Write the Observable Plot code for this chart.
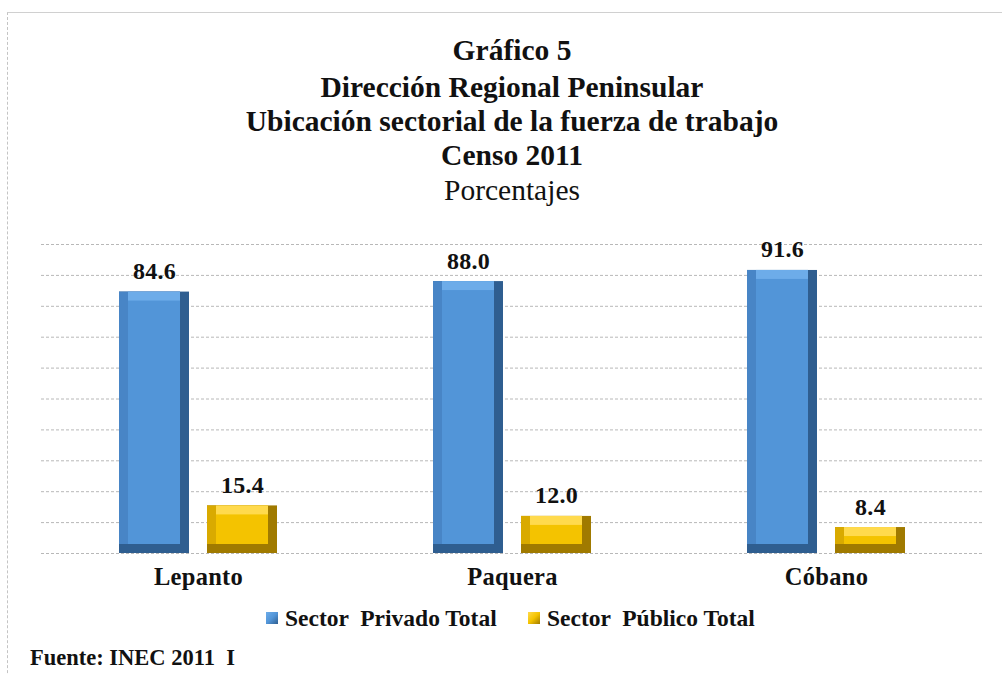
<!DOCTYPE html>
<html>
<head>
<meta charset="utf-8">
<script src="https://cdn.jsdelivr.net/npm/d3@7"></script>
<script src="https://cdn.jsdelivr.net/npm/@observablehq/plot@0.6"></script>
<style>
  html, body { margin: 0; padding: 0; background: #fff; width: 1002px; height: 675px; overflow: hidden; }
  body { position: relative; font-family: "Liberation Serif", "Times New Roman", serif; color: #111; }
  .frame { position: absolute; left: 7px; top: 12px; width: 1010px; height: 700px;
           border-top: 1px solid #d0d0d0; border-left: 1px dashed #c4c4c4; }
  .tline { position: absolute; left: 12px; width: 1000px; text-align: center; line-height: 1; white-space: nowrap; }
  .legend { position: absolute; top: 604px; left: 0; width: 1002px; height: 28px; font-weight: bold; font-size: 23.5px; }
  .lg { position: absolute; top: 0; white-space: nowrap; line-height: 28px; }
  .sw { display: inline-block; width: 12px; height: 12px; margin-right: 7px; vertical-align: 2px; }
  .foot { position: absolute; left: 30px; top: 645px; font-weight: bold; font-size: 22.5px; line-height: 26px; }
  #chart { position: absolute; left: 0; top: 220px; }
</style>
</head>
<body>
<div class="frame"></div>
<div id="titles"></div>
<div id="chart"></div>
<div class="legend" id="legend"></div>
<div class="foot">Fuente: INEC 2011&nbsp; I</div>
<script>
const categories = ["Lepanto", "Paquera", "Cóbano"];
const seriesNames = ["Sector  Privado Total", "Sector  Público Total"];
const privado = [84.6, 88.0, 91.6];
const publico = [15.4, 12.0, 8.4];
const yTicks = [0, 10, 20, 30, 40, 50, 60, 70, 80, 90, 100];
const titleLines = ["Gráfico 5", "Dirección Regional Peninsular", "Ubicación sectorial de la fuerza de trabajo", "Censo 2011", "Porcentajes"];

// palette per series: [right/bottom, left, top, face]
const palette = {
  "Sector  Privado Total": ["#2f5e90", "#4885c6", "#6dace9", "#5295d8"],
  "Sector  Público Total": ["#a07a00", "#d9aa00", "#ffda4d", "#f4c300"]
};

// titles
const tdiv = document.getElementById("titles");
const tY = [51, 88, 122, 156, 191];
titleLines.forEach((t, i) => {
  const d = document.createElement("div");
  d.className = "tline";
  const last = i === titleLines.length - 1;
  const fs = last ? 29.5 : 29.5;
  d.style.fontSize = fs + "px";
  d.style.fontWeight = last ? "normal" : "bold";
  d.style.top = (tY[i] - fs / 2) + "px";
  d.textContent = t;
  tdiv.appendChild(d);
});

const rows = [];
categories.forEach((c, i) => {
  rows.push({cat: c, series: seriesNames[0], value: privado[i]});
  rows.push({cat: c, series: seriesNames[1], value: publico[i]});
});

const col = k => d => palette[d.series][k];

const chart = Plot.plot({
  width: 1002,
  height: 380,
  marginLeft: 40,
  marginRight: 19,
  marginTop: 24,
  marginBottom: 47,
  style: {fontFamily: "'Liberation Serif', 'Times New Roman', serif", fontSize: "24.5px", fontWeight: "bold", background: "transparent", color: "#111", overflow: "visible", letterSpacing: "0.3px"},
  fx: {domain: categories, padding: 0, label: null, axis: "bottom", tickSize: 0, tickPadding: 14},
  x: {domain: seriesNames, paddingInner: 0.2045, paddingOuter: 0.886, axis: null},
  y: {domain: [0, 100], axis: null},
  color: {type: "identity"},
  marks: [
    Plot.ruleY(yTicks, {stroke: "#b8b8b8", strokeWidth: 1, strokeDasharray: "3,2"}),
    Plot.barY(rows, {fx: "cat", x: "series", y: "value", fill: col(0)}),
    Plot.barY(rows, {fx: "cat", x: "series", y: "value", fill: col(1), insetRight: 9, insetBottom: 9}),
    Plot.barY(rows, {fx: "cat", x: "series", y: "value", fill: col(2), insetRight: 9, insetBottom: 9, insetLeft: 9}),
    Plot.barY(rows, {fx: "cat", x: "series", y: "value", fill: col(3), inset: 9}),
    Plot.text(rows, {fx: "cat", x: "series", y: "value", text: d => d.value.toFixed(1), lineAnchor: "bottom", dy: -13, fill: "#111", fontSize: 24, fontWeight: "bold"})
  ]
});
document.getElementById("chart").appendChild(chart);

// legend
const lg = document.getElementById("legend");
const lgX = [266, 528];
seriesNames.forEach((s, i) => {
  const d = document.createElement("div");
  d.className = "lg";
  d.style.left = lgX[i] + "px";
  const sw = document.createElement("span");
  sw.className = "sw";
  const p = palette[s];
  sw.style.background = `linear-gradient(135deg, ${p[2]} 0%, ${p[3]} 50%, ${p[0]} 100%)`;
  d.appendChild(sw);
  const t = document.createElement("span");
  t.style.whiteSpace = "pre";
  t.textContent = s;
  d.appendChild(t);
  lg.appendChild(d);
});
</script>
</body>
</html>
